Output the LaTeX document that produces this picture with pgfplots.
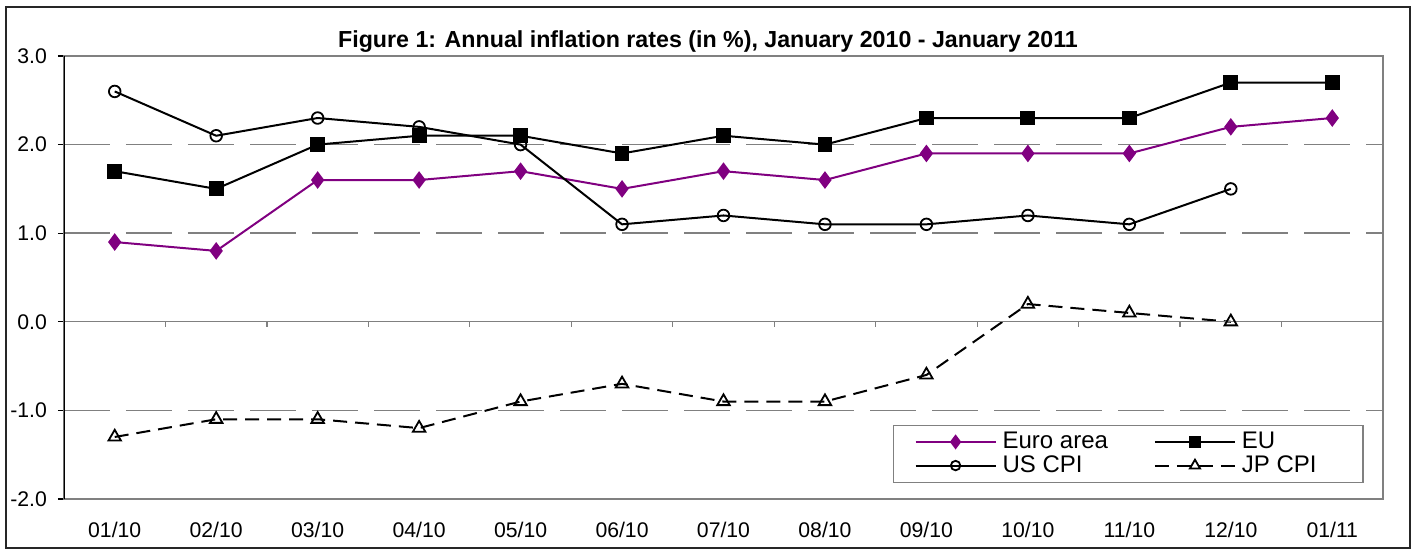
\documentclass[border=0pt]{standalone}
\usepackage{pgfplots}
\pgfplotsset{compat=1.18}
\usepackage{fontspec}
\setmainfont{Liberation Sans}
\definecolor{purp}{HTML}{800080}
\definecolor{gridgray}{HTML}{808080}
\begin{document}
\begin{tikzpicture}
\useasboundingbox (0,0) rectangle (707.5pt,-274.5pt);
\draw[line width=0.9pt, draw=black!85] (3pt,-3.5pt) rectangle (705pt,-274pt);
\node[font=\fontsize{11.6}{13}\selectfont\bfseries] at (354pt,-21pt) {Figure 1: Annual inflation rates (in \%), January 2010 - January 2011};
\begin{axis}[
  at={(32pt,-249.5pt)}, anchor=south west,
  scale only axis, width=659.5pt, height=221.5pt,
  xmin=-0.5, xmax=12.5, ymin=-2, ymax=3,
  xtick={0,...,12},
  xticklabels={01/10,02/10,03/10,04/10,05/10,06/10,07/10,08/10,09/10,10/10,11/10,12/10,01/11},
  ytick={-2,-1,0,1,2,3},
  yticklabels={-2.0,-1.0,0.0,1.0,2.0,3.0},
  ymajorgrids,
  major grid style={draw=gridgray, dash pattern=on 23pt off 8pt, line width=0.7pt},
  axis line style={draw=gridgray, line width=0.6pt},
  x tick style={draw=none},
  y tick style={draw=black, line width=0.6pt},
  tick align=outside, major tick length=3pt,
  ytick pos=left,
  tick label style={font=\fontsize{10.6}{12}\selectfont},
  xticklabel style={yshift=-5pt},
  yticklabel style={xshift=-2pt},
  legend columns=2,
  legend cell align=left,
  legend style={at={(0.6285,0.036)}, anchor=south west, draw=gridgray, line width=0.6pt,
    font=\fontsize{12}{13}\selectfont, inner xsep=10.5pt, inner ysep=2.5pt,
    row sep=0pt, column sep=0pt,
    nodes={inner xsep=3pt, inner ysep=1pt},
    /tikz/column 2/.style={column sep=20pt}},
  legend image code/.code={\draw[mark repeat=2,mark phase=2,#1,every mark/.append style={scale=0.82}] plot coordinates {(0pt,0pt) (20pt,0pt) (40pt,0pt)};},
]
\addplot[purp, line width=1pt, mark=diamond*, mark size=3.6pt, mark options={solid, fill=purp, draw=purp}]
  coordinates {(0,0.9)(1,0.8)(2,1.6)(3,1.6)(4,1.7)(5,1.5)(6,1.7)(7,1.6)(8,1.9)(9,1.9)(10,1.9)(11,2.2)(12,2.3)};
\addlegendentry{Euro area}
\addplot[black, line width=1pt, mark=square*, mark size=3.2pt, mark options={solid, fill=black}]
  coordinates {(0,1.7)(1,1.5)(2,2.0)(3,2.1)(4,2.1)(5,1.9)(6,2.1)(7,2.0)(8,2.3)(9,2.3)(10,2.3)(11,2.7)(12,2.7)};
\addlegendentry{\makebox[47pt][l]{EU}}
\addplot[black, line width=1pt, mark=o, mark size=2.9pt, mark options={solid, fill=white, line width=0.9pt}]
  coordinates {(0,2.6)(1,2.1)(2,2.3)(3,2.2)(4,2.0)(5,1.1)(6,1.2)(7,1.1)(8,1.1)(9,1.2)(10,1.1)(11,1.5)};
\addlegendentry{US CPI}
\addplot[black, line width=1pt, dash pattern=on 7pt off 4pt, mark=triangle, mark size=3.6pt, mark options={solid, fill=white, line width=0.9pt}]
  coordinates {(0,-1.3)(1,-1.1)(2,-1.1)(3,-1.2)(4,-0.9)(5,-0.7)(6,-0.9)(7,-0.9)(8,-0.6)(9,0.2)(10,0.1)(11,0.0)};
\addlegendentry{\makebox[47pt][l]{JP CPI}}
\draw[gridgray, line width=0.6pt] (axis cs:-0.5,0) -- (axis cs:12.5,0);
\pgfplotsinvokeforeach{0.5,1.5,...,11.5}{
  \draw[gridgray, line width=0.6pt] (axis cs:#1,0) -- ++(0pt,-2.5pt);
}
\draw[black, line width=0.6pt] (rel axis cs:0,0) -- (rel axis cs:0,1);
\end{axis}
\end{tikzpicture}
\end{document}
